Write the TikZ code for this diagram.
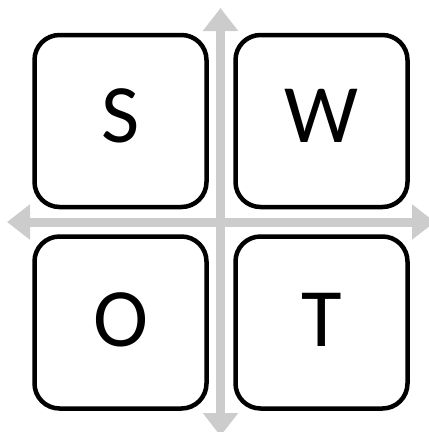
\documentclass[tikz,border=0pt]{standalone}
\usepackage{fontspec}
\setmainfont{Carlito}
\usetikzlibrary{arrows.meta}
\definecolor{axisgray}{RGB}{204,204,204}
\begin{document}
\begin{tikzpicture}[x=1pt,y=-1pt,
  axis/.style={draw=axisgray,line width=9pt,{Triangle[width=34pt,length=23pt]}-{Triangle[width=34pt,length=23pt]}},
  quad/.style={draw=black,fill=white,line width=4.5pt,rounded corners=25pt,minimum width=172pt,minimum height=172pt,inner sep=0pt},
  letter/.style={font=\fontsize{83}{90}\selectfont,inner sep=0pt}]
\useasboundingbox (0,0) rectangle (429,432);
\coordinate (top) at (220.5,8);
\coordinate (bottom) at (220.5,436);
\coordinate (left) at (7,222);
\coordinate (right) at (435,222);
\draw[axis] (top) -- (bottom);
\draw[axis] (left) -- (right);
\node[quad] (bS) at (120.5,121) {};
\node[quad] (bW) at (321.5,121) {};
\node[quad] (bO) at (120.5,322.5) {};
\node[quad] (bT) at (321.5,322.5) {};
\node[letter] (S) at (120.5,116) {S};
\node[letter] (W) at (321.5,116) {W};
\node[letter] (O) at (120.5,319.5) {O};
\node[letter] (T) at (321.5,319.5) {T};
\end{tikzpicture}
\end{document}
